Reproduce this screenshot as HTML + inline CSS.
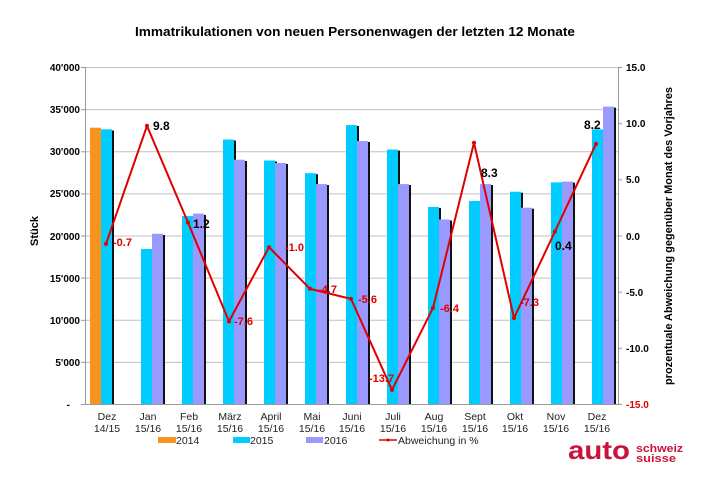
<!DOCTYPE html>
<html><head><meta charset="utf-8"><style>
html,body{margin:0;padding:0;background:#fff;}
svg{display:block;font-family:"Liberation Sans",Arial,sans-serif;}
</style></head><body>
<svg width="710" height="501" viewBox="0 0 710 501" xmlns="http://www.w3.org/2000/svg">
<rect width="710" height="501" fill="#fff"/>
<text x="355" y="36" text-anchor="middle" font-size="13" font-weight="bold" textLength="440" lengthAdjust="spacingAndGlyphs">Immatrikulationen von neuen Personenwagen der letzten 12 Monate</text>
<g stroke="#c0c0c0" stroke-width="1">
<line x1="85" y1="67.5" x2="618" y2="67.5"/>
<line x1="85" y1="109.6" x2="618" y2="109.6"/>
<line x1="85" y1="151.8" x2="618" y2="151.8"/>
<line x1="85" y1="193.9" x2="618" y2="193.9"/>
<line x1="85" y1="236" x2="618" y2="236"/>
<line x1="85" y1="278.1" x2="618" y2="278.1"/>
<line x1="85" y1="320.3" x2="618" y2="320.3"/>
<line x1="85" y1="362.4" x2="618" y2="362.4"/>
</g>
<g id="bars">
<rect x="90" y="127.7" width="11" height="276.3" fill="#f7941d"/>
<rect x="112" y="130.5" width="2" height="273.5" fill="#111"/><rect x="101" y="129.3" width="11" height="274.7" fill="#00ccff"/>

<rect x="152" y="250" width="2" height="154" fill="#111"/><rect x="141" y="249" width="11" height="155" fill="#00ccff"/>
<rect x="163" y="235" width="2" height="169" fill="#111"/><rect x="152" y="233.8" width="11" height="170.2" fill="#9999ff"/>

<rect x="193" y="217" width="2" height="187" fill="#111"/><rect x="182" y="216.1" width="11" height="187.9" fill="#00ccff"/>
<rect x="204" y="215" width="2" height="189" fill="#111"/><rect x="193" y="213.6" width="11" height="190.4" fill="#9999ff"/>

<rect x="234" y="140.5" width="2" height="263.5" fill="#111"/><rect x="223" y="139.5" width="11" height="264.5" fill="#00ccff"/>
<rect x="245" y="161" width="2" height="243" fill="#111"/><rect x="234" y="159.7" width="11" height="244.3" fill="#9999ff"/>

<rect x="275" y="161.5" width="2" height="242.5" fill="#111"/><rect x="264" y="160.5" width="11" height="243.5" fill="#00ccff"/>
<rect x="286" y="164" width="2" height="240" fill="#111"/><rect x="275" y="163" width="11" height="241" fill="#9999ff"/>

<rect x="316" y="174.2" width="2" height="229.8" fill="#111"/><rect x="305" y="173.2" width="11" height="230.8" fill="#00ccff"/>
<rect x="327" y="185" width="2" height="219" fill="#111"/><rect x="316" y="184.1" width="11" height="219.9" fill="#9999ff"/>

<rect x="357" y="126" width="2" height="278" fill="#111"/><rect x="346" y="125.1" width="11" height="278.9" fill="#00ccff"/>
<rect x="368" y="142" width="2" height="262" fill="#111"/><rect x="357" y="141.1" width="11" height="262.9" fill="#9999ff"/>

<rect x="398" y="150.6" width="2" height="253.4" fill="#111"/><rect x="387" y="149.6" width="11" height="254.4" fill="#00ccff"/>
<rect x="409" y="185" width="2" height="219" fill="#111"/><rect x="398" y="184.1" width="11" height="219.9" fill="#9999ff"/>

<rect x="439" y="208" width="2" height="196" fill="#111"/><rect x="428" y="206.9" width="11" height="197.1" fill="#00ccff"/>
<rect x="450" y="220.5" width="2" height="183.5" fill="#111"/><rect x="439" y="219.5" width="11" height="184.5" fill="#9999ff"/>

<rect x="480" y="202" width="2" height="202" fill="#111"/><rect x="469" y="201" width="11" height="203" fill="#00ccff"/>
<rect x="491" y="185" width="2" height="219" fill="#111"/><rect x="480" y="184.1" width="11" height="219.9" fill="#9999ff"/>

<rect x="521" y="192.7" width="2" height="211.3" fill="#111"/><rect x="510" y="191.7" width="11" height="212.3" fill="#00ccff"/>
<rect x="532" y="208.7" width="2" height="195.3" fill="#111"/><rect x="521" y="207.7" width="11" height="196.3" fill="#9999ff"/>

<rect x="562" y="183.4" width="2" height="220.6" fill="#111"/><rect x="551" y="182.4" width="11" height="221.6" fill="#00ccff"/>
<rect x="573" y="182.6" width="2" height="221.4" fill="#111"/><rect x="562" y="181.6" width="11" height="222.4" fill="#9999ff"/>

<rect x="603" y="130.3" width="2" height="273.7" fill="#111"/><rect x="592" y="129.3" width="11" height="274.7" fill="#00ccff"/>
<rect x="614" y="107.6" width="2" height="296.4" fill="#111"/><rect x="603" y="106.6" width="11" height="297.4" fill="#9999ff"/>
</g>
<g stroke="#999" stroke-width="1">
<line x1="85.5" y1="67" x2="85.5" y2="404"/>
<line x1="618.5" y1="67" x2="618.5" y2="404"/>
<line x1="85" y1="404.5" x2="618" y2="404.5"/>
<line x1="81" y1="67.5" x2="85" y2="67.5"/><line x1="81" y1="109.6" x2="85" y2="109.6"/><line x1="81" y1="151.8" x2="85" y2="151.8"/><line x1="81" y1="193.9" x2="85" y2="193.9"/><line x1="81" y1="236" x2="85" y2="236"/><line x1="81" y1="278.1" x2="85" y2="278.1"/><line x1="81" y1="320.3" x2="85" y2="320.3"/><line x1="81" y1="362.4" x2="85" y2="362.4"/><line x1="81" y1="404.5" x2="85" y2="404.5"/>
<line x1="618" y1="67.5" x2="622" y2="67.5"/><line x1="618" y1="123.7" x2="622" y2="123.7"/><line x1="618" y1="179.8" x2="622" y2="179.8"/><line x1="618" y1="236" x2="622" y2="236"/><line x1="618" y1="292.2" x2="622" y2="292.2"/><line x1="618" y1="348.3" x2="622" y2="348.3"/><line x1="618" y1="404.5" x2="622" y2="404.5"/>
</g>
<g font-size="10" font-weight="bold" text-anchor="end">
<text x="80" y="71">40'000</text><text x="80" y="113">35'000</text><text x="80" y="155">30'000</text><text x="80" y="197">25'000</text><text x="80" y="240">20'000</text><text x="80" y="282">15'000</text><text x="80" y="324">10'000</text><text x="80" y="366">5'000</text><text x="70" y="408">-</text>
</g>
<g font-size="10" font-weight="bold">
<text x="626" y="71">15.0</text><text x="626" y="127">10.0</text><text x="626" y="183">5.0</text><text x="626" y="240">0.0</text><text x="626" y="296">-5.0</text><text x="626" y="352">-10.0</text><text x="626" y="408" fill="#e00000">-15.0</text>
</g>
<text transform="translate(38,231) rotate(-90)" text-anchor="middle" font-size="11" font-weight="bold">Stück</text>
<text transform="translate(672,236) rotate(-90)" text-anchor="middle" font-size="11" font-weight="bold" textLength="298" lengthAdjust="spacingAndGlyphs">prozentuale Abweichung gegenüber Monat des Vorjahres</text>
<polyline fill="none" stroke="#e00000" stroke-width="2" points="106,243.9 147,125.9 188,222.5 229,321.4 269,247.2 310,288.8 351,298.9 392,389.9 433,307.9 474,142.8 514,318 555,231.5 596,143.9"/>
<g fill="#e00000"><circle cx="106" cy="243.9" r="2"/><circle cx="147" cy="125.9" r="2"/><circle cx="188" cy="222.5" r="2"/><circle cx="229" cy="321.4" r="2"/><circle cx="269" cy="247.2" r="2"/><circle cx="310" cy="288.8" r="2"/><circle cx="351" cy="298.9" r="2"/><circle cx="392" cy="389.9" r="2"/><circle cx="433" cy="307.9" r="2"/><circle cx="474" cy="142.8" r="2"/><circle cx="514" cy="318" r="2"/><circle cx="555" cy="231.5" r="2"/><circle cx="596" cy="143.9" r="2"/></g>
<g font-size="11" font-weight="bold" fill="#e00000">
<text x="113" y="246">-0.7</text><text x="234" y="325">-7.6</text><text x="285" y="251">-1.0</text><text x="318" y="293">-4.7</text><text x="358" y="303">-5.6</text><text x="369" y="382">-13.7</text><text x="440" y="312">-6.4</text><text x="520" y="306">-7.3</text>
</g>
<g font-size="12" font-weight="bold" fill="#000">
<text x="153" y="130">9.8</text><text x="193" y="228">1.2</text><text x="481" y="177">8.3</text><text x="555" y="250">0.4</text><text x="584" y="129">8.2</text>
</g>
<g font-size="10.5" text-anchor="middle" fill="#222">
<text x="107" y="420">Dez</text><text x="107" y="432">14/15</text>
<text x="148" y="420">Jan</text><text x="148" y="432">15/16</text>
<text x="189" y="420">Feb</text><text x="189" y="432">15/16</text>
<text x="230" y="420">März</text><text x="230" y="432">15/16</text>
<text x="271" y="420">April</text><text x="271" y="432">15/16</text>
<text x="312" y="420">Mai</text><text x="312" y="432">15/16</text>
<text x="352" y="420">Juni</text><text x="352" y="432">15/16</text>
<text x="393" y="420">Juli</text><text x="393" y="432">15/16</text>
<text x="434" y="420">Aug</text><text x="434" y="432">15/16</text>
<text x="475" y="420">Sept</text><text x="475" y="432">15/16</text>
<text x="515" y="420">Okt</text><text x="515" y="432">15/16</text>
<text x="556" y="420">Nov</text><text x="556" y="432">15/16</text>
<text x="597" y="420">Dez</text><text x="597" y="432">15/16</text>
</g>
<g font-size="10.5" fill="#222">
<rect x="158" y="437" width="18" height="6" fill="#f7941d"/><text x="176" y="444">2014</text>
<rect x="233" y="437" width="17" height="6" fill="#00ccff"/><text x="250" y="444">2015</text>
<rect x="306" y="437" width="17" height="6" fill="#9999ff"/><text x="324" y="444">2016</text>
<line x1="379" y1="440" x2="397" y2="440" stroke="#e00000" stroke-width="1.5"/><circle cx="388" cy="440" r="1.5" fill="#e00000"/><text x="398" y="444">Abweichung in %</text>
</g>
<text x="568" y="459" font-size="26" font-weight="bold" fill="#c8143c" textLength="62" lengthAdjust="spacingAndGlyphs">auto</text>
<text x="636" y="452" font-size="11" font-weight="bold" fill="#c8143c" textLength="47" lengthAdjust="spacingAndGlyphs">schweiz</text>
<text x="636" y="462" font-size="11" font-weight="bold" fill="#c8143c" textLength="40" lengthAdjust="spacingAndGlyphs">suisse</text>
</svg>
</body></html>
